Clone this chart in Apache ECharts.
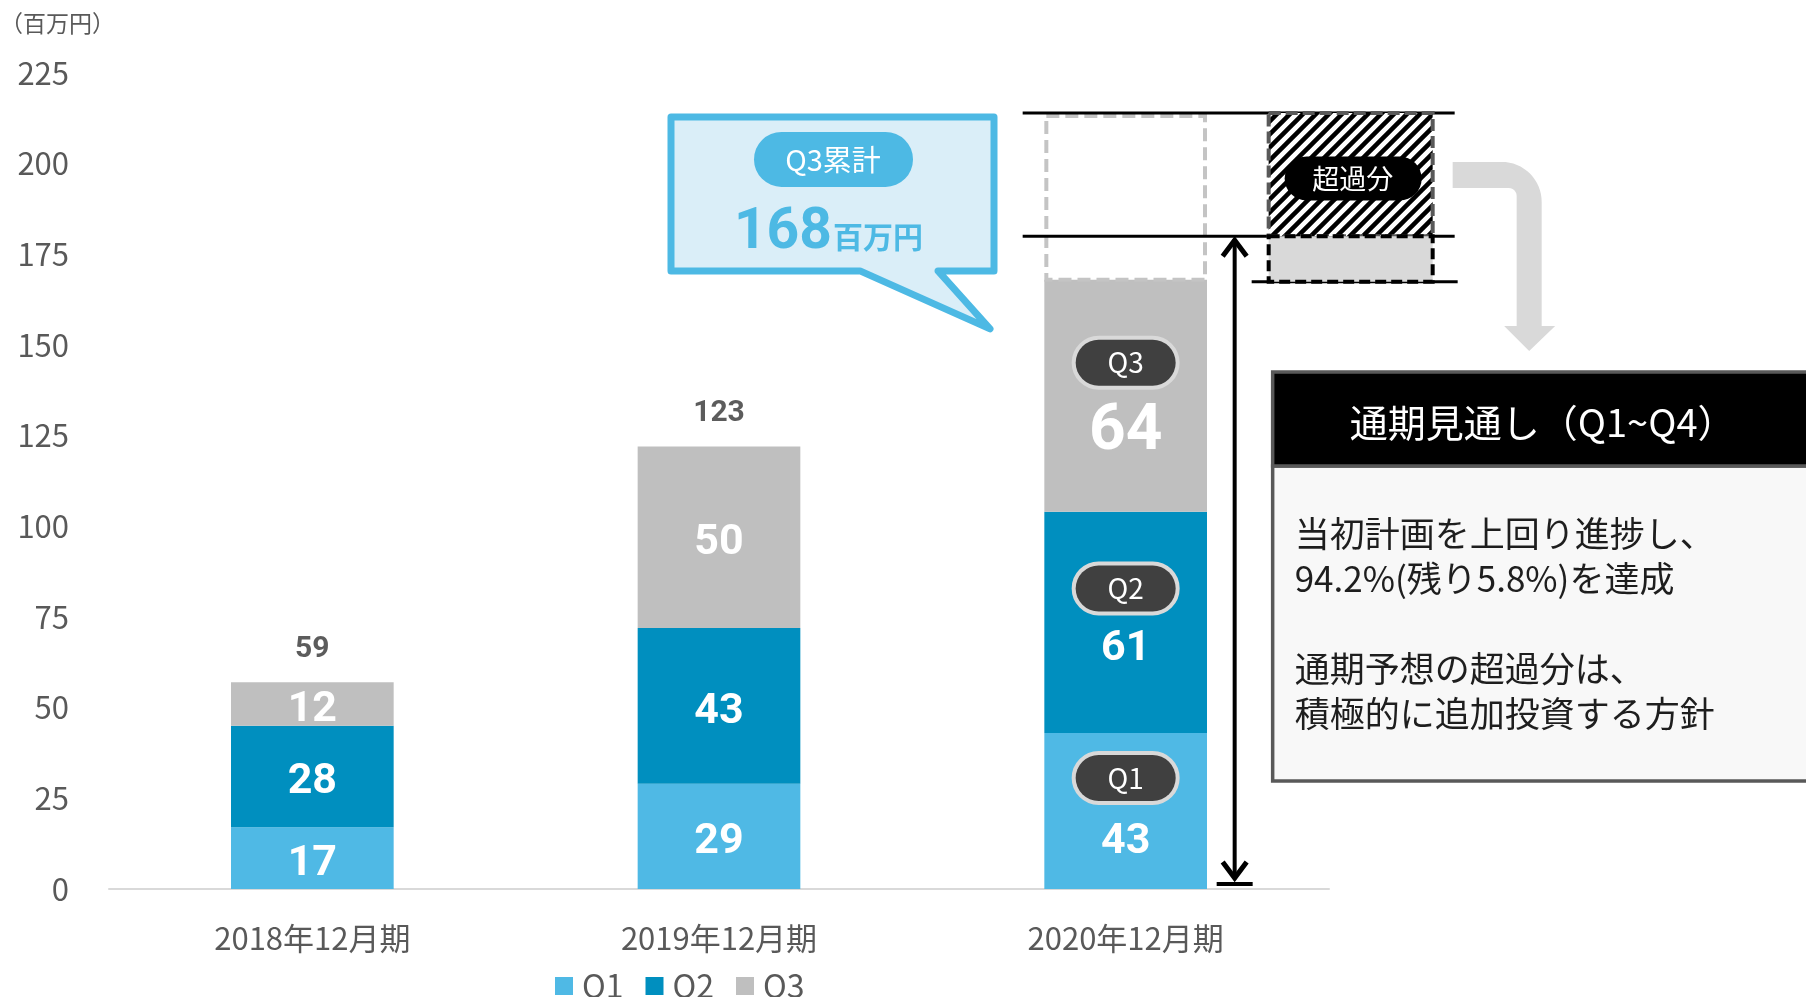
<!DOCTYPE html>
<html lang="ja">
<head>
<meta charset="utf-8">
<title>売上推移</title>
<script src="https://cdn.jsdelivr.net/npm/echarts@6.0.0/dist/echarts.min.js"></script>
<style>
  html, body { margin: 0; padding: 0; background: #ffffff; }
  #chart { width: 1806px; height: 997px; }
</style>
</head>
<body>
<div id="chart"></div>
<script>
// ---- data (百万円) ----
const categories = ['2018年12月期', '2019年12月期', '2020年12月期'];
const q1 = [17, 29, 43];
const q2 = [28, 43, 61];
const q3 = [12, 50, 64];
const totals = [59, 123, null];          // 年間合計ラベル
const quarterTags = ['Q1', 'Q2', 'Q3'];
const yMin = 0, yMax = 225, yStep = 25;

// 通期見通し関連
const cumulativeQ3 = 168;                // Q3累計
const planLevel = 180;                   // 通期予想
const ceilingLevel = 214;                // 超過分の上端

const CJK = '"Noto Sans CJK JP", "Noto Sans", sans-serif';
const NUM = 'Roboto, "Noto Sans", sans-serif';
const COLORS = ['#4fb9e5', '#008fbf', '#bfbfbf'];

const chart = echarts.init(document.getElementById('chart'), null, { renderer: 'canvas' });

// 最新期のバーには「Qn」バッジ付きラベル
function badgeLabel(tag, numSize, numLine, offsetY) {
  return {
    show: true,
    position: 'inside',
    offset: [0, offsetY],
    formatter: '{pill|' + tag + '}\n{n|{c}}',
    rich: {
      pill: {
        width: 100, height: 46, lineHeight: 50,
        backgroundColor: '#404040', borderColor: '#d9d9d9', borderWidth: 4, borderRadius: 25,
        color: '#ffffff', fontSize: 28, fontWeight: 'normal', fontFamily: CJK,
        align: 'center', verticalAlign: 'middle'
      },
      n: {
        fontSize: numSize, lineHeight: numLine, fontWeight: 'bold',
        color: '#ffffff', fontFamily: NUM, align: 'center'
      }
    }
  };
}

const badgeSpec = [
  { size: 43, line: 78, dy: 6 },
  { size: 43, line: 72, dy: 2 },
  { size: 64, line: 90, dy: 12 }
];

function quarterSeries(name, values, idx) {
  return {
    name: name,
    type: 'bar',
    stack: 'total',
    barWidth: '40%',
    itemStyle: { color: COLORS[idx] },
    label: {
      show: true,
      position: 'inside',
      offset: [0, 6],
      color: '#ffffff',
      fontSize: 43,
      fontWeight: 'bold',
      fontFamily: NUM
    },
    data: values.map((v, i) => i === categories.length - 1
      ? { value: v, label: badgeLabel(quarterTags[idx], badgeSpec[idx].size, badgeSpec[idx].line, badgeSpec[idx].dy) }
      : v)
  };
}

const totalPoints = categories
  .map((c, i) => [i, q1[i] + q2[i] + q3[i], totals[i]])
  .filter(d => d[2] != null);

const option = {
  animation: false,
  backgroundColor: '#ffffff',
  title: {
    text: '（百万円）',
    left: -5,
    top: 7,
    textStyle: { fontSize: 23, fontWeight: 'normal', color: '#595959', fontFamily: CJK }
  },
  legend: {
    data: quarterTags,
    left: 550,
    top: 965,
    icon: 'rect',
    itemWidth: 18,
    itemHeight: 18,
    itemGap: 22,
    textStyle: { fontSize: 32, color: '#595959', fontFamily: CJK, padding: [0, 0, 0, 4] }
  },
  grid: {
    left: 109,
    right: 477,
    top: 73,
    bottom: 108,
    containLabel: false,
    outerBoundsMode: 'none'
  },
  xAxis: {
    type: 'category',
    data: categories,
    axisLine: { lineStyle: { color: '#d9d9d9', width: 2 } },
    axisTick: { show: false },
    axisLabel: { color: '#595959', fontSize: 31, fontFamily: CJK, margin: 34 }
  },
  yAxis: {
    type: 'value',
    min: yMin,
    max: yMax,
    interval: yStep,
    axisLine: { show: false },
    axisTick: { show: false },
    splitLine: { show: false },
    axisLabel: { color: '#595959', fontSize: 31, fontFamily: CJK, margin: 40 }
  },
  series: [
    quarterSeries('Q1', q1, 0),
    quarterSeries('Q2', q2, 1),
    quarterSeries('Q3', q3, 2),
    {
      name: '合計',
      type: 'scatter',
      symbolSize: 0,
      silent: true,
      data: totalPoints,
      label: {
        show: true,
        position: 'top',
        distance: 18,
        formatter: p => String(p.value[2]),
        color: '#333333',
        fontSize: 30,
        fontWeight: 'bold',
        fontFamily: NUM
      }
    }
  ]
};

chart.setOption(option);

// 斜線パターン（超過分）
function hatchPattern() {
  const s = 13;
  const c = document.createElement('canvas');
  c.width = s; c.height = s;
  const g = c.getContext('2d');
  g.fillStyle = '#ffffff';
  g.fillRect(0, 0, s, s);
  g.strokeStyle = '#000000';
  g.lineWidth = 4.5;
  g.beginPath();
  g.moveTo(-4, s + 4); g.lineTo(s + 4, -4);
  g.moveTo(-4, 4); g.lineTo(4, -4);
  g.moveTo(s - 4, s + 4); g.lineTo(s + 4, s - 4);
  g.stroke();
  return c;
}

// 四分円の点列（角丸用）
function arcPoints(ox, oy, r, a0, a1, steps) {
  const pts = [];
  for (let k = 0; k <= steps; k++) {
    const a = a0 + (a1 - a0) * k / steps;
    pts.push([ox + r * Math.cos(a), oy + r * Math.sin(a)]);
  }
  return pts;
}

// 注記類はすべて軸のスケールから位置を求める
function drawAnnotations() {
  const last = categories.length - 1;
  const px = v => chart.convertToPixel({ gridIndex: 0 }, [last, v]);
  const cx = px(0)[0];
  const yZero = px(0)[1];
  const yQ3 = px(cumulativeQ3)[1];
  const yPlan = px(planLevel)[1];
  const yTop = px(ceilingLevel)[1];
  const band = chart.getModel().getComponent('xAxis', 0).axis.getBandWidth();
  const barW = band * 0.4;
  const barL = cx - barW / 2;

  const arrowX = cx + 109;
  const boxL = cx + 143, boxR = cx + 307;
  const black = '#000000';
  const Z = 20;

  const g = [];

  // 見通しのバー枠（点線）
  g.push({
    type: 'rect', z: Z,
    shape: { x: barL + 2, y: yTop + 3, width: barW - 4, height: yQ3 - yTop - 3 },
    style: { fill: null, stroke: '#c4c4c4', lineWidth: 4, lineDash: [13, 6] }
  });

  // 水平線
  g.push({ type: 'line', z: Z, shape: { x1: cx - 103, y1: yTop, x2: cx + 329, y2: yTop }, style: { stroke: black, lineWidth: 3 } });
  g.push({ type: 'line', z: Z, shape: { x1: cx - 103, y1: yPlan, x2: cx + 329, y2: yPlan }, style: { stroke: black, lineWidth: 3 } });
  g.push({ type: 'line', z: Z, shape: { x1: cx + 126, y1: yQ3 + 2, x2: cx + 332, y2: yQ3 + 2 }, style: { stroke: black, lineWidth: 3 } });

  // 超過分（斜線）と残り分
  g.push({
    type: 'rect', z: Z,
    shape: { x: boxL, y: yTop, width: boxR - boxL, height: yPlan - yTop },
    style: { fill: { image: hatchPattern(), repeat: 'repeat' }, stroke: '#595959', lineWidth: 4, lineDash: [12, 5] }
  });
  g.push({
    type: 'rect', z: Z,
    shape: { x: boxL, y: yPlan, width: boxR - boxL, height: yQ3 + 2 - yPlan },
    style: { fill: '#d9d9d9', stroke: black, lineWidth: 4, lineDash: [11, 5] }
  });
  const pillY = (yTop + yPlan) / 2 + 4;
  g.push({
    type: 'rect', z: Z + 1,
    shape: { x: boxL + 16, y: pillY - 22, width: 137, height: 44, r: 22 },
    style: { fill: black }
  });
  g.push({
    type: 'text', z: Z + 2,
    style: {
      text: '超過分', x: boxL + 84, y: pillY,
      fill: '#ffffff', fontSize: 27, fontFamily: CJK,
      align: 'center', verticalAlign: 'middle', textAlign: 'center', textVerticalAlign: 'middle'
    }
  });

  // 上下矢印
  g.push({ type: 'line', z: Z, shape: { x1: arrowX, y1: yPlan + 3, x2: arrowX, y2: yZero - 11 }, style: { stroke: black, lineWidth: 4 } });
  g.push({
    type: 'polyline', z: Z,
    shape: { points: [[arrowX - 12, yPlan + 20], [arrowX, yPlan + 4], [arrowX + 12, yPlan + 20]] },
    style: { stroke: black, lineWidth: 5, fill: null, lineJoin: 'miter' }
  });
  g.push({
    type: 'polyline', z: Z,
    shape: { points: [[arrowX - 12, yZero - 27], [arrowX, yZero - 11], [arrowX + 12, yZero - 27]] },
    style: { stroke: black, lineWidth: 5, fill: null, lineJoin: 'miter' }
  });
  g.push({ type: 'line', z: Z, shape: { x1: arrowX - 18, y1: yZero - 5, x2: arrowX + 18, y2: yZero - 5 }, style: { stroke: black, lineWidth: 4 } });

  // 曲がり矢印（グレー）
  const ax = cx + 327;
  const vL = cx + 391, vR = cx + 416, vC = (vL + vR) / 2;
  const hT = yTop + 49, hB = yTop + 75;
  const headY = yTop + 213, tipY = yTop + 238;
  const R = 40, r = 8;
  const bend = [[ax, hT]]
    .concat(arcPoints(vR - R, hT + R, R, -Math.PI / 2, 0, 16))
    .concat([[vR, headY], [vC + 26, headY], [vC, tipY], [vC - 25, headY], [vL, headY]])
    .concat(arcPoints(vL - r, hB + r, r, 0, -Math.PI / 2, 6))
    .concat([[ax, hB]]);
  g.push({ type: 'polygon', z: Z, shape: { points: bend }, style: { fill: '#d9d9d9' } });

  // 通期見通しボックス
  const tbX = cx + 147, tbTop = yTop + 259, tbHead = yTop + 353, tbBottom = yTop + 668;
  g.push({
    type: 'rect', z: Z,
    shape: { x: tbX, y: tbHead, width: 700, height: tbBottom - tbHead },
    style: { fill: '#f8f8f8', stroke: '#595959', lineWidth: 3.5 }
  });
  g.push({
    type: 'rect', z: Z,
    shape: { x: tbX, y: tbTop, width: 700, height: tbHead - tbTop },
    style: { fill: '#000000', stroke: '#595959', lineWidth: 3.5 }
  });
  g.push({
    type: 'text', z: Z + 1,
    style: {
      text: '通期見通し（Q1~Q4）', x: tbX + 270, y: (tbTop + tbHead) / 2 + 4,
      fill: '#ffffff', fontSize: 38, fontFamily: CJK,
      align: 'center', verticalAlign: 'middle', textAlign: 'center', textVerticalAlign: 'middle'
    }
  });
  g.push({
    type: 'text', z: Z + 1,
    style: {
      text: '当初計画を上回り進捗し、\n94.2%(残り5.8%)を達成\n\n通期予想の超過分は、\n積極的に追加投資する方針',
      x: tbX + 22, y: tbHead + 45,
      fill: '#1e1e1e', fontSize: 35, lineHeight: 45, fontFamily: CJK,
      align: 'left', verticalAlign: 'top', textAlign: 'left', textVerticalAlign: 'top'
    }
  });

  // Q3累計の吹き出し
  const cL = 671, cR = 994, cT = yTop + 4, cB = yTop + 158;
  g.push({
    type: 'polygon', z: Z,
    shape: { points: [[cL, cT], [cR, cT], [cR, cB], [938, cB], [990, cB + 58], [860, cB], [cL, cB]] },
    style: { fill: '#daeef8', stroke: '#4db9e4', lineWidth: 7, lineJoin: 'round' }
  });
  const cMid = 833;
  g.push({
    type: 'rect', z: Z + 1,
    shape: { x: cMid - 79, y: cT + 15, width: 159, height: 55, r: 27.5 },
    style: { fill: '#4db9e4' }
  });
  g.push({
    type: 'text', z: Z + 2,
    style: {
      text: 'Q3累計', x: cMid, y: cT + 43,
      fill: '#ffffff', fontSize: 29, fontFamily: CJK,
      align: 'center', verticalAlign: 'middle', textAlign: 'center', textVerticalAlign: 'middle'
    }
  });
  g.push({
    type: 'text', z: Z + 2,
    style: {
      text: String(cumulativeQ3), x: cMid - 1, y: cT + 117,
      fill: '#4db9e4', fontSize: 57, fontWeight: 'bold', fontFamily: NUM,
      align: 'right', verticalAlign: 'middle', textAlign: 'right', textVerticalAlign: 'middle'
    }
  });
  g.push({
    type: 'text', z: Z + 2,
    style: {
      text: '百万円', x: cMid, y: cT + 120,
      fill: '#4db9e4', fontSize: 30, fontWeight: 'bold', fontFamily: CJK,
      align: 'left', verticalAlign: 'middle', textAlign: 'left', textVerticalAlign: 'middle'
    }
  });

  chart.setOption({ graphic: { elements: g } });
}

drawAnnotations();
</script>
</body>
</html>
